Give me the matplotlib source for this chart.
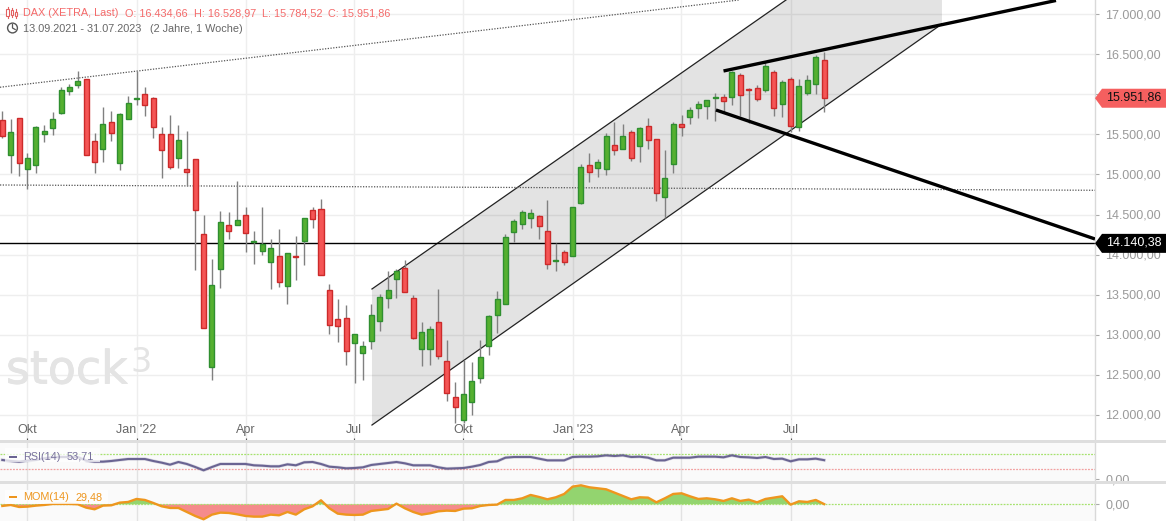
import matplotlib
matplotlib.use("Agg")
import matplotlib.pyplot as plt
from matplotlib.patches import Polygon, Rectangle, Circle
from matplotlib.lines import Line2D
from matplotlib.transforms import IdentityTransform, ScaledTranslation
import matplotlib.patheffects as pe
import numpy as np

plt.rcParams['font.family'] = ['Liberation Sans', 'DejaVu Sans']

opens = [15675,15246,15700,15063,15113,15508,15575,15763,16038,16113,16188,15413,15321,15650,15146,15696,15945,16000,15950,15500,
         15500,15208,15063,15188,14262,12596,13825,14375,14375,14500,14155,14046,13912,13987,13612,13985,14175,14562,14575,13563,
         13200,13213,12900,12775,12925,13175,13463,13696,13838,13463,12825,12825,13163,12675,12225,11933,12163,12463,12863,13250,
         13388,14287,14387,14462,14487,14300,13921,14037,13987,14646,15113,15075,15063,15363,15313,15525,15350,15600,15438,14713,
         15125,15625,15713,15833,15850,15950,15963,15963,16237,16062,16075,16050,16275,15875,16187,15588,16012,16125,16434.66]
highs = [15792,15692,15705,15263,15604,15617,15779,16088,16129,16292,16190,15513,15838,15792,15763,15975,16292,16088,15963,15592,
         15738,15613,15542,15188,14500,13942,14550,14537,14925,14600,14292,14592,14192,14317,14025,14229,14462,14592,14700,13638,
         13442,13375,13013,12925,13388,13513,13792,13825,13938,13500,13154,13113,13567,12929,12404,12679,12663,12929,13242,13542,
         14262,14450,14562,14575,14500,14682,14150,14062,14600,15125,15267,15188,15513,15650,15629,15554,15588,15700,15440,15300,
         15650,15738,15838,15913,15925,16012,16000,16290,16262,16075,16112,16421,16300,16175,16212,16187,16237,16492,16528.97]
lows = [15458,15021,14983,14821,15021,15408,15496,15758,15992,16083,15246,15021,15154,15417,15054,15696,15867,15729,15454,14958,
        15071,15083,14854,13808,13083,12429,13583,14196,14371,14033,13883,13996,13571,13596,13383,13683,13871,14333,13750,13008,
        12908,12621,12396,12429,12825,13046,13333,13458,13535,12946,12608,12621,12696,12179,11900,11896,11992,12396,12746,13021,
        13388,14158,14321,14333,14196,13817,13792,13875,13987,14633,14908,14971,14996,15246,15313,15171,15158,15321,14671,14458,
        15021,15483,15633,15708,15696,15671,15783,15871,15729,15638,15921,16033,15733,15721,15533,15546,15987,16004,15784.52]
closes = [15483,15525,15146,15200,15588,15538,15688,16050,16088,16163,15246,15158,15625,15521,15750,15888,15955,15871,15596,15308,
          15096,15425,15033,14558,13083,13625,14412,14300,14437,14271,14170,14133,14087,13662,14025,13965,14462,14446,13750,13125,
          13108,12800,13013,12863,13250,13475,13563,13790,13538,12958,13038,13075,12738,12275,12100,12263,12425,12725,13238,13450,
          14225,14425,14537,14525,14362,13887,13937,13908,14600,15088,15025,15150,15475,15300,15475,15200,15575,15425,14763,14950,
          15625,15596,15800,15875,15925,15965,15913,16275,15987,16050,15946,16350,15825,16150,15600,16100,16175,16462,15951.86]

rsi = [54.2,51.4,49.5,52.3,54.2,58.8,61.6,62.5,62.5,62.5,52.3,49.5,49.5,51.4,54.2,56.9,56.9,56.9,51.4,46.8,
       41.2,48.6,43.1,34.7,25.5,34.7,43.1,43.1,43.1,43.1,39.4,38.4,36.6,36.6,42.1,39.4,47.7,48.6,43.1,35.6,
       33.8,31.0,31.9,33.8,40.3,43.1,45.8,48.6,44.9,39.4,39.4,39.4,33.8,30.1,31.0,31.9,35.6,40.3,48.6,50.5,
       60.6,62.5,62.5,62.5,57.9,53.2,53.2,53.2,62.5,63.4,63.4,64.4,67.1,65.3,67.1,62.5,63.4,60.6,53.2,53.2,
       60.6,60.6,60.6,63.4,63.4,63.4,61.6,67.1,62.5,61.6,59.7,62.5,56.9,57.9,50.5,56.0,56.0,57.9,53.71]

mom = [-235,-94,-376,-329,-188,-94,47,47,47,0,-470,-705,-188,-141,235,329,752,611,188,-282,
       -517,-517,-1081,-1645,-2115,-1457,-1175,-1222,-1410,-1645,-1739,-1739,-1457,-1551,-1081,-1457,-705,-282,564,-564,
       -1316,-1457,-1504,-1457,-940,-799,-658,94,-564,-1081,-1457,-1269,-987,-893,-940,-611,-564,-235,-94,-47,
       611,611,846,1316,1034,705,987,1457,2491,2679,2397,2256,2115,1645,1175,705,987,940,282,846,
       1457,1551,1128,752,846,705,470,846,470,658,282,752,940,1128,-47,423,329,611,29.48]

month_pos = [2.94,16,29,41.96,54.95,68,80.95,94]
month_labels = ['Okt',"Jan '22",'Apr','Jul','Okt',"Jan '23",'Apr','Jul']
price_ticks = [12000,12500,13000,13500,14000,14500,15000,15500,16000,16500,17000]
price_labels = ['12.000,00','12.500,00','13.000,00','13.500,00','14.000,00','14.500,00','15.000,00','15.500,00','16.000,00','16.500,00','17.000,00']

# drawing-tool lines, as (candle index, price)
channel_x = [44.08,93.45,112.05,112.05,44.08]
channel_y = [13571,17178,17178,16879,11873]
channel_low_x, channel_low_y = [44.08,112.05],[11873,16879]
channel_up_x, channel_up_y = [44.08,93.45],[13571,17178]
dot1_x, dot1_y = [-0.278,87.85],[16089,17178]
dot2_x, dot2_y = [-0.278,130.3],[14869,14803]
thick1_x, thick1_y = [86.0,125.65],[16292,17172]
thick2_x, thick2_y = [85.1,130.3],[15805,14195]
level = 14140.38
last = 15951.86

W, H = 1166, 521
fig = plt.figure(figsize=(W/100, H/100), dpi=100, facecolor='white')
XL = (-0.278, 130.3)
RIGHT = 1095
UP = ScaledTranslation(0, 0.7/100, fig.dpi_scale_trans)

def mkax(top, bottom, ylim, bg='white'):
    a = fig.add_axes([0, 1-bottom/H, RIGHT/W, (bottom-top)/H], facecolor=bg)
    a.set_xlim(*XL); a.set_ylim(*ylim)
    for s in ('top','left','bottom'):
        a.spines[s].set_visible(False)
    a.spines['right'].set_color('#d9d9d9'); a.spines['right'].set_linewidth(1)
    a.yaxis.tick_right()
    a.set_xticks(month_pos)
    a.set_axisbelow(True)
    a.grid(True, color='#eeeeee', lw=1.0)
    a.tick_params(axis='y', length=3, width=0.8, color='#aaaaaa', labelcolor='#9a9a9a', labelsize=9, pad=4.4)
    return a

ax = mkax(0, 440, (11686, 17178))
ax.set_yticks(price_ticks); ax.set_yticklabels(price_labels)
for t in ax.get_yticklabels():
    t.set_transform(t.get_transform() + UP)
ax.set_xticklabels(month_labels)
ax.tick_params(axis='x', direction='in', length=1.8, width=0.8, color='#555555', labelcolor='#666666', labelsize=9, pad=-11.5)

# channel
ax.add_patch(Polygon(np.column_stack([channel_x, channel_y]), closed=True, fc='black', alpha=0.11, ec='none', zorder=1))
ax.plot(channel_up_x, channel_up_y, color='#222222', lw=0.9, zorder=2)
ax.plot(channel_low_x, channel_low_y, color='#222222', lw=0.9, zorder=2)
ax.plot(dot1_x, dot1_y, color='#555555', lw=0.9, ls=(0,(1,1.2)), zorder=2)
ax.plot(dot2_x, dot2_y, color='#555555', lw=0.9, ls=(0,(1,1.2)), zorder=2)
ax.axhline(level, color='black', lw=1.0, zorder=2.5)

# candles
idx = np.arange(len(closes))
o, h, l, c = map(np.array, (opens, highs, lows, closes))
up = c >= o
ax.vlines(idx, l, h, color='#808080', lw=1.0, zorder=3)
ax.bar(idx[up], (c-o)[up], bottom=o[up], width=0.6, color='#55b030', edgecolor='#2f8f30', lw=1.0, zorder=4)
ax.bar(idx[~up], (c-o)[~up], bottom=o[~up], width=0.6, color='#f55555', edgecolor='#cc2a2a', lw=1.0, zorder=4)

ax.plot(thick1_x, thick1_y, color='black', lw=2.4, zorder=5, solid_capstyle='butt')
ax.plot(thick2_x, thick2_y, color='black', lw=2.4, zorder=5, solid_capstyle='butt')

# RSI panel
r = mkax(443, 481, (-4.2, 101.4), bg='#fafafa')
r.set_yticks([0]); r.set_yticklabels(['0,00'])
r.set_xticklabels([]); r.tick_params(axis='x', length=0)
r.grid(True, axis='x', color='#e2e2e2', lw=1.0); r.grid(False, axis='y')
r.axhline(70, color='#a6e26e', lw=0.9, ls=(0,(1.5,1)), zorder=1)
r.axhline(30, color='#f2a0a0', lw=0.9, ls=(0,(1.5,1)), zorder=1)
r.plot(idx, rsi, color='#6a6492', lw=2.4, alpha=0.22, zorder=2)
r.plot(idx, rsi, color='#6a6492', lw=1.5, zorder=3)

# MOM panel
m = mkax(484, 521, (-2355, 2862), bg='#fafafa')
m.set_yticks([0]); m.set_yticklabels(['0,00'])
m.set_xticklabels([]); m.tick_params(axis='x', length=0)
m.grid(True, axis='x', color='#e2e2e2', lw=1.0); m.grid(False, axis='y')
mom_a = np.array(mom)
m.fill_between(idx, mom_a, 0, where=mom_a>=0, interpolate=True, color='#93d46f', lw=0, zorder=1)
m.fill_between(idx, mom_a, 0, where=mom_a<=0, interpolate=True, color='#f58b8b', lw=0, zorder=1)
m.axhline(0, color='#a6e26e', lw=0.9, ls=(0,(1.5,1)), zorder=2)
m.plot(idx, mom, color='#ee961e', lw=1.7, zorder=4)

# overlays in pixel coordinates
def P(x, y):
    return (x, H-y)
def add(art):
    art.set_transform(IdentityTransform())
    art.set_zorder(6)
    fig.add_artist(art)
def T(x, y, s, **kw):
    kw.setdefault('fontsize', 7.8)
    kw.setdefault('va', 'center')
    return fig.text(x/W, 1-y/H, s, zorder=8, **kw)

# separators
for top, bot in ((440, 442.6), (481, 483.8)):
    add(Rectangle(P(0, bot), W, bot-top, fc='#dedede', ec='none'))

# price tags
for val, fc in ((last, '#f55f5f'), (level, '#000000')):
    yc = ax.transData.transform((0, val))[1]
    hh = 9.5
    add(Polygon([(RIGHT, yc), (RIGHT+7, yc+hh), (W, yc+hh), (W, yc-hh), (RIGHT+7, yc-hh)], closed=True, fc=fc, ec='none'))
T(1106, H-ax.transData.transform((0, last))[1]-0.5, '15.951,86', fontsize=9, color='#111111')
T(1106, H-ax.transData.transform((0, level))[1]-0.5, '14.140,38', fontsize=9, color='white')

# header
red = '#f46a6a'; grey = '#666666'
T(23, 13.5, 'DAX (XETRA, Last)', color=red)
T(125, 13.5, 'O: 16.434,66', color=red)
T(194, 13.5, 'H: 16.528,97', color=red)
T(262, 13.5, 'L: 15.784,52', color=red)
T(328, 13.5, 'C: 15.951,86', color=red)
T(23, 29.5, '13.09.2021 - 31.07.2023', color=grey)
T(150, 29.5, '(2 Jahre, 1 Woche)', color=grey)

# header icons
for x0, y0, y1, w0, w1 in ((7.5, 9, 16, 7, 18), (12, 10, 15, 8, 17), (16, 12, 16, 9, 18)):
    add(Line2D([x0, x0], [H-w0, H-w1], color='#e36060', lw=0.8))
    add(Rectangle(P(x0-1.3, y1), 2.6, y1-y0, fc='white', ec='#e36060', lw=0.8))
add(Circle(P(12.5, 28), 4.9, fc='none', ec='#555555', lw=1.0))
add(Line2D([12.5, 12.5, 15.2], [H-24.5, H-28, H-29.5], color='#555555', lw=0.9))

# indicator legends
add(Rectangle(P(5, 462), 95, 14, fc='white', ec='none', alpha=0.75))
add(Rectangle(P(5, 504), 103, 14, fc='white', ec='none', alpha=0.75))
add(Rectangle(P(9, 458), 8, 2.4, fc='#6a6492', ec='none'))
add(Rectangle(P(9, 498), 8, 2.4, fc='#ee961e', ec='none'))
T(23, 456.5, 'RSI(14)', color='#77719c')
T(67, 456.5, '53,71', color='#77719c')
T(23, 497.5, 'MOM(14)', color='#ee961e')
T(76, 497.5, '29,48', color='#ee961e')

# watermark
wm = T(6, 371, 'stock', fontsize=33, color='#e4e4e4', family='DejaVu Sans')
wm.set_path_effects([pe.withStroke(linewidth=0.6, foreground='#e4e4e4')])
T(130, 362, '3', fontsize=24, color='#e4e4e4', family='DejaVu Sans')

fig.savefig('out.png', dpi=100)
